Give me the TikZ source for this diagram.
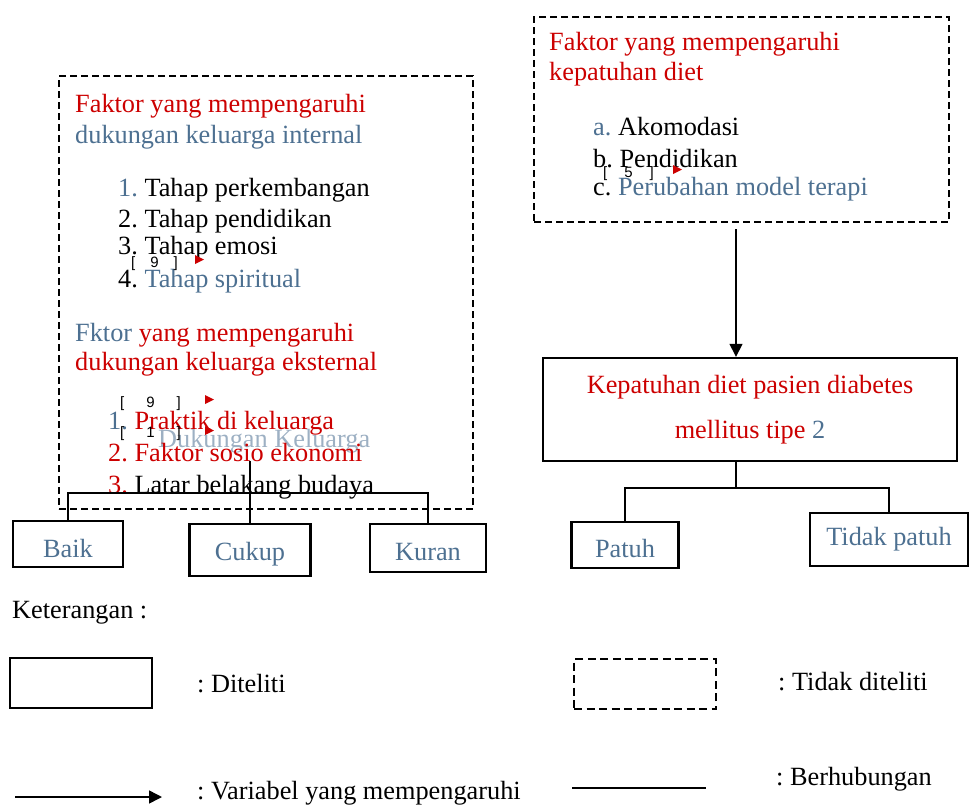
\documentclass[tikz,border=0pt]{standalone}
\usepackage{fontspec}
\setmainfont{Liberation Serif}
\setsansfont{Liberation Sans}
\usetikzlibrary{arrows.meta, positioning}
\frenchspacing

\definecolor{merah}{RGB}{204,0,0}
\definecolor{biru}{RGB}{77,112,145}

\begin{document}
\begin{tikzpicture}[
    x=1pt, y=-1pt,
    every node/.style={font=\fontsize{26.3}{30}\selectfont},
    txt/.style={anchor=base west, inner sep=0pt},
    dashbox/.style={draw, dash pattern=on 7pt off 4pt, line width=2pt, anchor=north west, inner sep=0pt},
    box/.style={draw, line width=2.4pt, inner sep=0pt, text=biru, text depth=0pt},
    link/.style={line width=1.5pt},
    arrow/.style={-{Triangle[length=13pt, width=13pt]}, line width=1.5pt},
    tanda/.style={anchor=base west, inner sep=0pt, font=\sffamily\fontsize{15}{15}\selectfont},
    flag/.style={fill=merah}
]
    \useasboundingbox (0,0) rectangle (970,804);

    % faktor dukungan keluarga (tidak diteliti)
    \node[dashbox, minimum width=414pt, minimum height=433pt] (faktorint) at (58,75) {};
    \node[txt, text=merah] (int1) at (75,112) {Faktor yang mempengaruhi};
    \node[txt, text=biru] (int2) at (75,143) {dukungan keluarga internal};
    \node[txt] (int3) at (118,196) {\textcolor{biru}{1.} Tahap perkembangan};
    \node[txt] (int4) at (118,227) {2. Tahap pendidikan};
    \node[txt] (int5) at (118,254) {3. Tahap emosi};
    \node[txt] (int6) at (118,287) {4. \textcolor{biru}{Tahap spiritual}};
    \node[tanda] (t1) at (131,267) {[\hspace{15pt}9\hspace{15pt}]};
    \fill[flag] (195,255) -- ++(9,4.5) -- ++(-9,4.5) -- cycle;

    \node[txt, text=merah] (eks1) at (75,341) {\textcolor{biru}{Fktor} yang mempengaruhi};
    \node[txt, text=merah] (eks2) at (75,370) {dukungan keluarga eksternal};
    \node[txt, inner ysep=8pt, text=biru!55] (dk) at (158,447) {Dukungan Keluarga};
    \node[txt, text=merah] (eks3) at (108,429) {\textcolor{biru}{1.} Praktik di keluarga};
    \node[txt, text=merah] (eks4) at (108,461) {2. Faktor sosio ekonomi};
    \node[txt, text=merah] (eks5) at (108,493) {3. \textcolor{black}{Latar belakang budaya}};
    \node[tanda] (t2) at (120,407) {[\hspace{22pt}9\hspace{22pt}]};
    \fill[flag] (205,395) -- ++(9,4.5) -- ++(-9,4.5) -- cycle;
    \node[tanda] (t3) at (120,437) {[\hspace{22pt}1\hspace{22pt}]};
    \fill[flag] (205,426) -- ++(9,4.5) -- ++(-9,4.5) -- cycle;

    % kategori dukungan keluarga
    \node[box, minimum width=110pt, minimum height=46pt, text height=26pt] (baik) at (68,544) {Baik};
    \node[box, minimum width=121pt, minimum height=52pt, text height=20pt] (ck) at (250,550) {Cukup};
    \node[box, minimum width=116pt, minimum height=48pt, text height=24pt] (kuran) at (428,548) {Kuran};
    \coordinate (dj) at (250,493);
    \draw[link] (dk.south -| ck.north) -- (ck.north);
    \draw[link] (baik.north) |- (dj) -| (kuran.north);

    % faktor kepatuhan diet (tidak diteliti)
    \node[dashbox, minimum width=415pt, minimum height=205pt] (faktordiet) at (533,16) {};
    \node[txt, text=merah] (diet1) at (549,50) {Faktor yang mempengaruhi};
    \node[txt, text=merah] (diet2) at (549,80) {kepatuhan diet};
    \node[txt] (diet3) at (593,135) {\textcolor{biru}{a.} Akomodasi};
    \node[txt] (diet4) at (593,167) {b. Pendidikan};
    \node[txt] (diet5) at (593,195) {c. \textcolor{biru}{Perubahan model terapi}};
    \node[tanda] (t4) at (603,177) {[\hspace{17pt}5\hspace{17pt}]};
    \fill[flag] (673,165) -- ++(9,4.5) -- ++(-9,4.5) -- cycle;

    % kepatuhan diet
    \node[draw, line width=2.4pt, minimum width=414pt, minimum height=103pt, text=merah, align=center,
          font=\fontsize{26.3}{45}\selectfont] (kepatuhan) at (750,409.5)
          {Kepatuhan diet pasien diabetes\\mellitus tipe \textcolor{biru}{2}};
    \coordinate (a0) at (736,229);
    \draw[arrow] (a0) -- (a0 |- kepatuhan.north);

    \node[box, minimum width=107pt, minimum height=46pt, text height=24pt] (patuh) at (625,545) {Patuh};
    \node[box, minimum width=158pt, minimum height=53pt, text height=11pt] (tidak) at (889,539.5) {Tidak patuh};
    \coordinate (kj) at (736,488);
    \draw[link] (kepatuhan.south -| kj) -- (kj);
    \draw[link] (patuh.north) |- (kj) -| (tidak.north);

    % keterangan
    \node[txt] (ket) at (12,618) {Keterangan :};
    \node[box, anchor=north west, minimum width=142pt, minimum height=50pt] (legdit) at (9,657) {};
    \node[txt] (ldit) at (197,692) {: Diteliti};
    \node[dashbox, dash pattern=on 8pt off 4.5pt, minimum width=142pt, minimum height=50pt] (legtdk) at (573,658) {};
    \node[txt] (ltdk) at (778,690) {: Tidak diteliti};
    \coordinate (la0) at (15,797);
    \coordinate (la1) at (162,797);
    \draw[arrow] (la0) -- (la1);
    \node[txt] (lvar) at (197,799) {: Variabel yang mempengaruhi};
    \coordinate (lb0) at (572,788);
    \coordinate (lb1) at (706,788);
    \draw[link] (lb0) -- (lb1);
    \node[txt] (lber) at (776,785) {: Berhubungan};
\end{tikzpicture}
\end{document}
